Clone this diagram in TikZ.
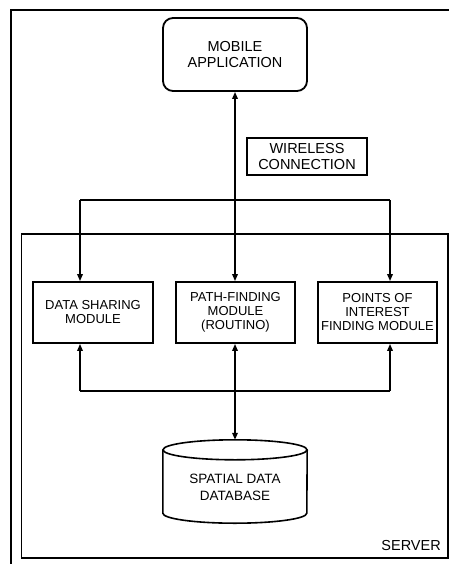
\documentclass[tikz,border=0pt]{standalone}
\usepackage{fontspec}
\setmainfont{Liberation Sans}
\usetikzlibrary{arrows.meta}
\begin{document}
\begin{tikzpicture}[x=1pt,y=-1pt,
  txt/.style={font=\fontsize{13}{14}\selectfont, align=center, inner sep=0pt},
  bigtxt/.style={txt, font=\fontsize{14.5}{16.5}\selectfont},
  modbox/.style={draw, line width=1.8pt, inner sep=0pt, txt},
  conn/.style={line width=1.6pt},
  arr/.style={conn, -{Triangle[length=7pt,width=5.5pt]}},
  darr/.style={conn, {Triangle[length=7pt,width=5.5pt]}-{Triangle[length=7pt,width=5.5pt]}}
]
\useasboundingbox (0,0) rectangle (449,564);
% outer frame (only top and left visible)
\draw[line width=1.5pt] (11,564) -- (11,10) -- (449,10);
% server box
\draw[line width=1.8pt] (21.5,234) rectangle (448,558);
\node[bigtxt, anchor=east] (server) at (441,546) {SERVER};

% mobile application
\node[draw, line width=1.8pt, rounded corners=10pt, minimum width=144pt, minimum height=73pt,
      bigtxt] (app) at (235,54.5) {MOBILE\\APPLICATION};

% wireless label
\node[draw, line width=1.3pt, minimum width=120pt, minimum height=37pt,
      bigtxt] (wl) at (307,156.5) {WIRELESS\\CONNECTION};

% modules
\node[modbox, minimum width=120pt, minimum height=61pt] (ds) at (93,312.5) {DATA SHARING\\MODULE};
\node[modbox, minimum width=119pt, minimum height=61pt] (pf) at (235.5,312.5) {PATH-FINDING\\MODULE\\(ROUTINO)};
\node[modbox, minimum width=119pt, minimum height=61pt] (poi) at (377.5,312.5) {POINTS OF\\INTEREST\\FINDING MODULE};

% database cylinder
\node[minimum width=144pt, minimum height=63pt, inner sep=0pt] (db) at (235,481.5) {};
\draw[line width=1.6pt, fill=white] (db.north) ellipse [x radius=72pt, y radius=10pt];
\draw[line width=1.6pt] (db.north west) -- (db.south west)
   arc[start angle=180, end angle=360, x radius=72pt, y radius=10pt] -- (db.north east);
\node[txt, font=\fontsize{13.5}{17}\selectfont] (dbtxt) at (235,487) {SPATIAL DATA\\DATABASE};

% bus coordinates
\coordinate (tl) at (80,200);
\coordinate (tm) at (235,200);
\coordinate (tr) at (390,200);
\coordinate (bl) at (80,391);
\coordinate (bm) at (235,391);
\coordinate (br) at (390,391);

% upper connections
\draw[arr] (tm) -- (app.south -| tm);
\draw[conn] (tl) -- (tr);
\draw[arr] (tl) -- (ds.north -| tl);
\draw[arr] (tm) -- (pf.north -| tm);
\draw[arr] (tr) -- (poi.north -| tr);

% lower connections
\draw[conn] (bl) -- (br);
\draw[arr] (bl) -- (ds.south -| bl);
\draw[arr] (br) -- (poi.south -| br);
\draw[darr] (pf.south -| bm) -- ([yshift=10pt]db.north -| bm);
\end{tikzpicture}
\end{document}
